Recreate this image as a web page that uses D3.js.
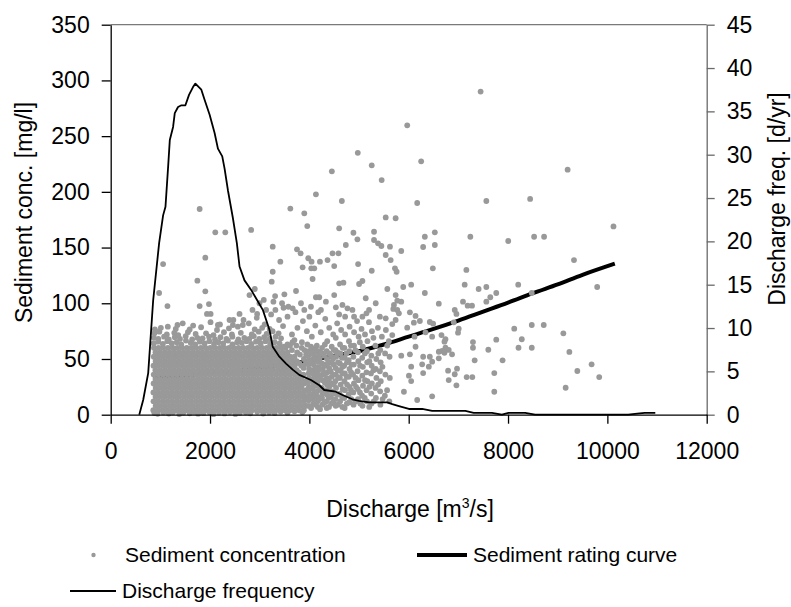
<!DOCTYPE html>
<html>
<head>
<meta charset="utf-8">
<script src="https://cdn.jsdelivr.net/npm/d3@7"></script>
<style>
  body { margin: 0; background: #fff; }
  text { font-family: "Liberation Sans", Arial, sans-serif; fill: #000; }
</style>
</head>
<body>
<svg></svg>
<script>
const svgWidth = 791;
const svgHeight = 607;

// tick values
const xTicks = [0, 2000, 4000, 6000, 8000, 10000, 12000];
const concTicks = [0, 50, 100, 150, 200, 250, 300, 350];
const freqTicks = [0, 5, 10, 15, 20, 25, 30, 35, 40, 45];

// sediment concentration, dense core: [conc mg/l, discharges m3/s]
const sedCoreRows = [
  [4,  [858, 951, 1046, 1142, 1236, 1331, 1427, 1519, 1614, 1709, 1805, 1898, 1994, 2089, 2183, 2278, 2373, 2468, 2562, 2657, 2752, 2846, 2942, 3037, 3131, 3226, 3321, 3416, 3510, 3605, 3700, 3795, 3890]],
  [8,  [905, 998, 1093, 1188, 1283, 1378, 1472, 1566, 1661, 1756, 1851, 1946, 2040, 2135, 2230, 2325, 2419, 2514, 2609, 2704, 2799, 2893, 2988, 3083, 3178, 3272, 3367, 3462, 3557, 3652, 3747, 3842, 3935]],
  [12, [862, 955, 1050, 1145, 1240, 1334, 1429, 1524, 1619, 1713, 1808, 1903, 1998, 2092, 2187, 2282, 2377, 2471, 2566, 2661, 2756, 2850, 2945, 3040, 3135, 3229, 3324, 3419, 3514, 3608, 3703, 3798, 3893]],
  [16, [903, 1001, 1096, 1190, 1285, 1380, 1475, 1569, 1664, 1759, 1854, 1948, 2043, 2138, 2233, 2327, 2422, 2517, 2612, 2706, 2801, 2896, 2991, 3085, 3180, 3275, 3370, 3464, 3559, 3654, 3749, 3843, 3930]],
  [20, [860, 954, 1049, 1143, 1238, 1333, 1428, 1522, 1617, 1712, 1807, 1901, 1996, 2091, 2186, 2280, 2375, 2470, 2565, 2659, 2754, 2849, 2944, 3038, 3133, 3228, 3323, 3417, 3512, 3607, 3702, 3796, 3891]],
  [24, [906, 1000, 1095, 1190, 1285, 1379, 1474, 1569, 1664, 1758, 1853, 1948, 2043, 2137, 2232, 2327, 2422, 2516, 2611, 2706, 2801, 2895, 2990, 3085, 3180, 3274, 3369, 3464, 3559, 3653, 3748, 3843]],
  [28, [864, 957, 1052, 1147, 1241, 1336, 1431, 1526, 1620, 1715, 1810, 1905, 1999, 2094, 2189, 2284, 2378, 2473, 2568, 2663, 2757, 2852, 2947, 3042, 3136, 3231, 3326, 3421, 3515, 3610, 3705, 3800, 3895]],
  [32, [902, 998, 1093, 1187, 1282, 1377, 1472, 1566, 1661, 1756, 1851, 1945, 2040, 2135, 2230, 2324, 2419, 2514, 2609, 2703, 2798, 2893, 2988, 3082, 3177, 3272, 3367, 3461, 3556, 3651, 3746, 3840]],
  [36, [866, 958, 1053, 1148, 1243, 1337, 1432, 1527, 1622, 1716, 1811, 1906, 2001, 2095, 2190, 2285, 2380, 2474, 2569, 2664, 2759, 2853, 2948, 3043, 3138, 3232, 3327, 3422, 3517, 3611, 3706, 3801]],
  [40, [900, 997, 1091, 1186, 1281, 1376, 1470, 1565, 1660, 1755, 1849, 1944, 2039, 2134, 2228, 2323, 2418, 2513, 2607, 2702, 2797, 2892, 2986, 3081, 3176, 3271, 3365, 3460, 3555, 3650, 3744]],
  [44, [862, 955, 1050, 1145, 1240, 1334, 1429, 1524, 1619, 1713, 1808, 1903, 1998, 2092, 2187, 2282, 2377, 2471, 2566, 2661, 2756, 2850, 2945, 3040, 3135, 3229, 3324, 3419, 3514, 3608, 3703]],
  [48, [905, 999, 1094, 1189, 1284, 1378, 1473, 1568, 1663, 1757, 1852, 1947, 2042, 2136, 2231, 2326, 2421, 2515, 2610, 2705, 2800, 2894, 2989, 3084, 3179, 3273, 3368, 3463, 3558, 3652]],
  [52, [868, 960, 1055, 1150, 1245, 1339, 1434, 1529, 1624, 1718, 1813, 1908, 2003, 2097, 2192, 2287, 2382, 2476, 2571, 2666, 2761, 2855, 2950, 3045, 3140, 3234, 3329, 3424, 3519, 3613]],
  [56, [902, 996, 1091, 1186, 1281, 1375, 1470, 1565, 1660, 1754, 1849, 1944, 2039, 2133, 2228, 2323, 2418, 2512, 2607, 2702, 2797, 2891, 2986, 3081, 3176, 3270, 3365, 3460, 3560]],
  [60, [870, 962, 1057, 1152, 1247, 1341, 1436, 1531, 1626, 1720, 1815, 1910, 2005, 2099, 2194, 2289, 2384, 2478, 2573, 2668, 2763, 2857, 2952, 3047, 3142, 3236, 3331, 3426, 3520]]
];

// sediment concentration, edges of the core and the rest of the cloud: [Q, C]
const sedEdgePoints = [
  [880, 1.5], [945, 0.8], [1060, 2], [1170, 1], [1255, 2.2], [1380, 0.6], [1460, 1.8], [1590, 1.2], [1680, 2.5], [1760, 0.9],
  [1870, 1.6], [1990, 2.3], [2070, 0.5], [2180, 1.9], [2290, 1.1], [2400, 2.4], [2510, 0.7], [2600, 1.7], [2720, 2.1], [2810, 1.3],
  [2950, 2.6], [3070, 1], [3190, 2.2], [3300, 1.5], [3420, 2.8], [3560, 1.8], [3700, 3], [3860, 2.4],
  [865, 64], [955, 65.5], [1050, 63.5], [1140, 66], [1230, 64], [1330, 65], [1420, 63], [1515, 66.5], [1610, 64.5], [1700, 63],
  [1795, 65.5], [1890, 64], [1985, 66], [2080, 63.5], [2170, 65], [2265, 64], [2360, 66.5], [2450, 63], [2545, 65], [2640, 64.5],
  [2735, 66], [2830, 63.5], [2925, 65.5], [3020, 64], [3115, 66], [3210, 63.5], [3300, 65], [3400, 64],
  [870, 69], [960, 68], [1075, 70], [1170, 67.5], [1290, 69.5], [1395, 68], [1510, 70.5], [1640, 67.5], [1745, 69], [1850, 68.5],
  [1980, 70], [2100, 67.5], [2210, 69.5], [2330, 68], [2450, 70], [2570, 67.5], [2690, 69], [2790, 68], [2880, 70.5], [2990, 68],
  [3090, 69.5], [3200, 68], [3320, 70], [3430, 68.5],
  [880, 73], [980, 74.5], [1130, 72], [1280, 73.5], [1360, 71.5], [1555, 74], [1710, 72.5], [1920, 73], [2070, 71.5], [2280, 74],
  [2440, 72], [2620, 73.5], [2840, 72], [2980, 74.5], [3140, 72.5], [3260, 75], [3380, 73],
  [890, 76.5], [1010, 78], [1310, 77], [1590, 76.5], [1820, 78.5], [2140, 76], [2380, 77.5], [2560, 79], [2900, 76.5], [3050, 78],
  [3200, 77], [1450, 82], [1660, 80], [2010, 83], [2470, 85], [2660, 80.5], [2780, 82], [2940, 87], [3100, 81], [3230, 90],
  [3390, 85], [3470, 79.5], [2200, 81], [1150, 79],
  [3790, 38], [3885, 42], [3800, 46], [3890, 50], [3810, 54], [3900, 58], [3740, 62], [3850, 65], [3700, 67], [3960, 63],
  [3745, 48], [3840, 44], [3755, 56], [3845, 60], [3700, 52], [3650, 58], [3610, 62], [3930, 46], [3935, 54], [3700, 40],
  [3880, 36], [3930, 30], [3935, 22], [3940, 14], [3660, 65], [3560, 63], [3490, 61],
  [3990, 8], [3985, 13], [3995, 17], [3980, 21], [3990, 25], [3975, 29], [3992, 33], [3985, 37], [3995, 41], [3982, 45], [3990, 49], [3978, 53], [3988, 57],
  [4080, 10], [4075, 14], [4085, 19], [4070, 23], [4082, 28], [4078, 32], [4088, 36], [4072, 40], [4085, 45], [4075, 50], [4090, 54], [4070, 59],
  [4170, 7], [4165, 12], [4178, 16], [4160, 21], [4172, 26], [4168, 30], [4180, 35], [4162, 39], [4175, 43], [4168, 48], [4178, 52], [4165, 57], [4150, 62],
  [4260, 9], [4255, 15], [4268, 19], [4250, 24], [4265, 31], [4258, 36], [4270, 41], [4252, 46], [4262, 55], [4255, 60],
  [4350, 6], [4345, 12], [4360, 18], [4340, 22], [4355, 27], [4348, 33], [4362, 38], [4342, 44], [4356, 50], [4349, 57], [4360, 66],
  [4440, 10], [4432, 16], [4450, 21], [4436, 28], [4448, 34], [4430, 39], [4445, 47], [4438, 53], [4450, 61],
  [4530, 8], [4525, 14], [4538, 24], [4522, 30], [4535, 36], [4528, 42], [4540, 52], [4524, 58], [4532, 69],
  [4620, 12], [4612, 19], [4630, 27], [4616, 33], [4628, 40], [4615, 46], [4625, 55], [4618, 63],
  [4710, 6], [4702, 15], [4718, 22], [4706, 30], [4715, 37], [4700, 44], [4712, 51], [4705, 60], [4720, 72],
  [4800, 11], [4790, 18], [4810, 25], [4795, 34], [4808, 41], [4792, 49], [4805, 57], [4798, 66],
  [4890, 9], [4885, 20], [4898, 28], [4880, 36], [4895, 45], [4886, 52], [4900, 62],
  [4980, 14], [4975, 23], [4990, 31], [4970, 39], [4985, 48], [4978, 56], [4992, 70],
  [5070, 8], [5062, 17], [5080, 26], [5066, 35], [5078, 43], [5064, 51], [5075, 61],
  [5160, 12], [5152, 22], [5168, 30], [5150, 38], [5165, 47], [5158, 57], [5170, 66],
  [5250, 10], [5245, 19], [5258, 28], [5240, 37], [5255, 44], [5248, 53], [5260, 75],
  [5340, 15], [5332, 24], [5350, 33], [5336, 41], [5348, 50], [5330, 62],
  [5430, 9], [5425, 21], [5438, 30], [5420, 39], [5435, 47], [5428, 58],
  [5520, 17], [5530, 36], [5525, 55],
  [5610, 12], [5620, 33], [5615, 52],
  [3650, 72], [3760, 78], [3870, 84], [3950, 75], [4050, 70], [4120, 80], [4230, 74], [4320, 86], [4400, 78], [4480, 72],
  [4560, 82], [4640, 76], [4720, 88], [4810, 79], [4900, 74], [4960, 84], [5050, 77], [5120, 72], [5200, 83], [5290, 69],
  [5380, 78], [5460, 70], [5540, 76], [5600, 66], [4000, 88], [4180, 92], [4600, 90], [5150, 91], [5420, 88], [3720, 92],
  [3560, 88], [3480, 96]
];

// sediment concentration, filling between the columns above: [Q, C]
const sedMidPoints = [
  [4035, 6], [4028, 15], [4040, 24], [4031, 31], [4038, 39], [4026, 47], [4042, 55], [4033, 61],
  [4125, 9], [4118, 17], [4130, 26], [4121, 34], [4128, 42], [4116, 50], [4132, 58],
  [4215, 5], [4208, 14], [4220, 23], [4211, 33], [4218, 41], [4206, 50], [4222, 56],
  [4305, 11], [4298, 20], [4310, 29], [4301, 37], [4308, 45], [4296, 53], [4312, 63],
  [4395, 7], [4388, 15], [4400, 25], [4391, 31], [4398, 42], [4386, 47], [4402, 55],
  [4485, 12], [4478, 19], [4490, 27], [4481, 36], [4488, 45], [4476, 50], [4492, 58],
  [4575, 9], [4568, 18], [4580, 33], [4571, 40], [4578, 47], [4566, 56],
  [4665, 7], [4658, 16], [4670, 23], [4661, 37], [4668, 43], [4656, 51], [4672, 60],
  [4755, 10], [4760, 27], [4751, 34], [4758, 47], [4746, 55],
  [4845, 14], [4838, 22], [4841, 38], [4848, 45], [4836, 62],
  [4935, 12], [4940, 25], [4931, 33], [4926, 58],
  [5025, 10], [5018, 20], [5021, 44], [5016, 65],
  [5115, 15], [5120, 31], [5118, 55],
  [5205, 7], [5210, 25], [5208, 48],
  [5295, 12], [5291, 40],
  [5385, 27], [5388, 55],
  [5475, 14], [5471, 43],
  [5565, 22], [5568, 62]
];

// sediment concentration, scattered high values: [Q, C]
const sedOutliers = [
  [1791, 184.6], [3617, 185], [3898, 180.7], [4132, 197.8], [4453, 218.4], [4654, 191.8], [4975, 235], [5256, 223.8], [5456, 210.6], [5537, 177],
  [5970, 259.7], [6251, 227.4], [7448, 290], [6171, 190], [7563, 191.8], [8445, 193.6], [9200, 219.9],
  [10123, 169], [8525, 159.7], [8726, 159.7], [8004, 155.9], [9328, 138.8], [7241, 159.7], [6526, 163.7], [6325, 159.7], [6526, 152.3],
  [6291, 150.5], [5850, 146.9], [5723, 131.4], [6486, 131.4], [7161, 129.9], [7127, 116.7], [5890, 114.6], [6050, 116.7], [6325, 109.2],
  [6606, 99.6], [7408, 112.8], [7563, 114.6], [8205, 116.7], [8478, 109.2], [9795, 114.6], [7763, 109.2], [7643, 105.4], [7563, 101.4],
  [7093, 101.4], [7187, 97.8], [7275, 97.8], [6927, 94], [6961, 90.4], [6907, 82.9], [6993, 73.6], [7007, 77.2], [8125, 77.2], [8277, 67.7],
  [8211, 60.1], [8478, 60.1], [8478, 80.5], [8719, 80.5], [9114, 73], [9235, 56.3], [9683, 45.2], [9395, 39.2], [9836, 33.8], [9160, 24.2],
  [7763, 67.3], [7890, 48.8], [7723, 37.4], [7723, 20.6], [7603, 58.3], [7294, 65.2], [7294, 60.1], [7328, 48.8], [7167, 33.8], [7281, 33.8],
  [6961, 26.4], [6806, 31.1], [6927, 36.3], [6973, 41.3], [6793, 39.5], [6873, 54.2], [6740, 60.1], [6720, 65.5], [6606, 56.5], [6472, 47.6],
  [6425, 52], [6405, 43.1], [6271, 45.2], [6291, 37.4], [6472, 16.5], [6171, 13.2], [6050, 43.1], [6050, 30.2], [6004, 35], [5904, 20.6],
  [5850, 53], [6024, 54.2], [6138, 61], [6118, 70], [5970, 78.1], [6104, 82.6], [6138, 88.6], [6024, 91.9], [5803, 91], [5770, 102.3],
  [5850, 101.4], [5690, 94.9], [6225, 84.1], [6339, 73.9], [6425, 83.2], [6492, 81.7], [6472, 70], [6660, 71.5], [6673, 57.2], [6806, 58.1],
  [6740, 67.7], [6720, 55.6], [6291, 52], [6606, 50.6], [5669, 81.3], [5669, 71.5],
  [1055, 135.2], [975, 109.2], [1143, 97.5], [1344, 80.5], [1745, 120.3], [1791, 97.5], [1905, 140.9], [1905, 110.7], [1978, 99.3], [1938, 90.4],
  [2012, 90.4], [2106, 163.7], [2307, 163.7], [2159, 80.5], [2393, 85], [2460, 80.5], [2594, 90.4], [2674, 85], [2828, 165.8], [2794, 107.4],
  [2901, 112.8], [2855, 94], [2948, 90.4], [3129, 94], [3082, 103], [3262, 150.8], [3262, 128.3], [3242, 119.4], [3276, 101.4], [3310, 106.5],
  [3416, 137.3], [3497, 108], [3577, 96.9], [3731, 111], [3751, 148.4], [3824, 144.8], [3864, 132.3], [3958, 169.3], [3978, 140.4], [4038, 131.4],
  [4045, 137.3], [4065, 121.8], [4099, 131.4], [4132, 105.4], [4213, 137.3], [4366, 138.8], [4466, 144.8], [4500, 133.4], [4586, 144.8], [4600, 167.3],
  [4600, 117.9], [4686, 118.5], [4734, 152.3], [4887, 163.3], [4967, 157.4], [4981, 135.2], [5001, 117.3], [5068, 120], [5135, 104.5], [5256, 129.2],
  [5302, 164.2], [5302, 156.8], [5383, 153.8], [5450, 151.4], [5537, 143.3], [5570, 112.8], [5623, 150.8], [5637, 138.8], [5770, 94], [5737, 107.4],
  [5737, 176.3], [5757, 128.3],
  [2995, 100], [3316, 94], [3450, 100], [3664, 95.5], [3831, 100], [3898, 94], [4032, 96.9], [4199, 105.4], [4233, 94], [4333, 101.4],
  [4500, 107.4], [4533, 96.4], [4666, 98.5], [4767, 95.5], [4867, 94], [4900, 88], [5068, 88], [5202, 94], [5336, 100], [5537, 86.5],
  [5703, 98.5], [5737, 85]
];

// sediment rating curve
const ratingQ = [850, 1500, 2000, 2500, 3000, 3500, 4000, 4500, 5000, 5500, 6000, 6500, 7000, 7500, 8000, 8500, 9000, 9500, 10150];
const ratingC = [34, 35.5, 37, 39, 42, 45, 48.5, 53, 57, 63, 70, 77, 84.5, 92.5, 100.5, 109, 117, 125.5, 135.5];

// discharge frequency [d/yr]
const freqQ = [575, 654, 755, 855, 975, 1055, 1103, 1156, 1190, 1256, 1290, 1356, 1424, 1504, 1577, 1657, 1705, 1825, 1892, 1992,
  2092, 2159, 2246, 2293, 2360, 2460, 2540, 2594, 2694, 2828, 2929, 3062, 3196, 3262, 3396, 3530, 3664, 3797, 4032, 4199,
  4299, 4533, 4666, 4867, 5001, 5202, 5570, 5669, 5803, 6004, 6271, 6472, 7141, 7308, 7676, 7876, 8010, 8345, 8545, 10418,
  10650, 10752, 10965];
const freqDays = [0, 1.7, 4.8, 13.2, 19.8, 23, 24, 28.6, 31.7, 33.2, 34.8, 35.5, 35.7, 35.7, 36.9, 37.8, 38.2, 37.5, 36.3, 34.6,
  32.5, 30.7, 29.8, 28.4, 25.9, 22.7, 19.8, 17.1, 15.5, 14.4, 13.4, 12.1, 9.8, 7.85, 6.7, 5.9, 5.2, 4.6, 4.0, 3.4,
  2.85, 2.65, 2.27, 1.78, 1.6, 1.43, 1.43, 1.23, 1.0, 0.66, 0.66, 0.43, 0.43, 0.2, 0.2, 0, 0.2, 0.2, 0, 0,
  0.15, 0.2, 0.2];

const svg = d3.select("svg")
  .attr("width", svgWidth)
  .attr("height", svgHeight);

const x = d3.scaleLinear().domain([0, 12000]).range([110.7, 706.7]);
const yConc = d3.scaleLinear().domain([0, 350]).range([414.7, 24.7]);
const yFreq = d3.scaleLinear().domain([0, 45]).range([414.7, 24.7]);

// all concentration samples
const sedPoints = [];
sedCoreRows.forEach(function(row) {
  row[1].forEach(function(q) { sedPoints.push([q, row[0]]); });
});
sedEdgePoints.concat(sedMidPoints, sedOutliers).forEach(function(p) { sedPoints.push(p); });

// top border
svg.append("line")
  .attr("x1", x(0)).attr("x2", x(12000))
  .attr("y1", yConc(350)).attr("y2", yConc(350))
  .attr("stroke", "#7a7a7a").attr("stroke-width", 1.3);

// rating curve under the dots
const ratingLine = d3.line()
  .x(function(d, i) { return x(ratingQ[i]); })
  .y(function(d) { return yConc(d); })
  .curve(d3.curveMonotoneX);

svg.append("path")
  .attr("d", ratingLine(ratingC))
  .attr("fill", "none")
  .attr("stroke", "#000")
  .attr("stroke-width", 4);

svg.append("g")
  .selectAll("circle")
  .data(sedPoints)
  .enter()
  .append("circle")
  .attr("cx", function(d) { return x(d[0]); })
  .attr("cy", function(d) { return yConc(d[1]); })
  .attr("r", 2.9)
  .attr("fill", "#999999");

const freqLine = d3.line()
  .x(function(d, i) { return x(freqQ[i]); })
  .y(function(d) { return yFreq(d); });

svg.append("path")
  .attr("d", freqLine(freqDays))
  .attr("fill", "none")
  .attr("stroke", "#000")
  .attr("stroke-width", 1.8)
  .attr("stroke-linejoin", "round");

// axes
const fmt = d3.format("d");
const leftAxis = svg.append("g")
  .attr("transform", "translate(" + x(0) + ",0)")
  .call(d3.axisLeft(yConc).tickValues(concTicks).tickFormat(fmt).tickSize(9).tickSizeOuter(0).tickPadding(12));

const rightAxis = svg.append("g")
  .attr("transform", "translate(" + x(12000) + ",0)")
  .call(d3.axisRight(yFreq).tickValues(freqTicks).tickFormat(fmt).tickSize(8).tickSizeOuter(0).tickPadding(12));

const bottomAxis = svg.append("g")
  .attr("transform", "translate(0," + yConc(0) + ")")
  .call(d3.axisBottom(x).tickValues(xTicks).tickFormat(fmt).tickSize(9).tickSizeOuter(0).tickPadding(19));

[leftAxis, rightAxis, bottomAxis].forEach(function(g) {
  g.selectAll("text").style("font-size", "23px").attr("font-family", null);
  g.attr("font-family", null).attr("font-size", null);
});
leftAxis.selectAll("path, line").attr("stroke", "#000").attr("stroke-width", 1.3);
bottomAxis.selectAll("path, line").attr("stroke", "#000").attr("stroke-width", 1.3);
rightAxis.selectAll("path, line").attr("stroke", "#6a6a6a").attr("stroke-width", 1.3);

// axis titles
svg.append("text")
  .attr("transform", "translate(32,212.5) rotate(-90)")
  .attr("text-anchor", "middle")
  .style("font-size", "23px")
  .text("Sediment conc. [mg/l]");

svg.append("text")
  .attr("transform", "translate(785,199) rotate(-90)")
  .attr("text-anchor", "middle")
  .style("font-size", "23px")
  .text("Discharge freq. [d/yr]");

const xTitle = svg.append("text")
  .attr("x", 410)
  .attr("y", 517)
  .attr("text-anchor", "middle")
  .style("font-size", "23px");
xTitle.append("tspan").text("Discharge [m");
xTitle.append("tspan").attr("dy", -9).style("font-size", "14px").text("3");
xTitle.append("tspan").attr("dy", 9).text("/s]");

// legend
const legend = svg.append("g").style("font-size", "21px");
legend.append("circle").attr("cx", 93.5).attr("cy", 555).attr("r", 2.2).attr("fill", "#999999");
legend.append("text").attr("x", 125).attr("y", 562).text("Sediment concentration");
legend.append("line").attr("x1", 417).attr("x2", 467).attr("y1", 555).attr("y2", 555)
  .attr("stroke", "#000").attr("stroke-width", 4);
legend.append("text").attr("x", 473).attr("y", 562).text("Sediment rating curve");
legend.append("line").attr("x1", 70).attr("x2", 116).attr("y1", 591).attr("y2", 591)
  .attr("stroke", "#000").attr("stroke-width", 1.8);
legend.append("text").attr("x", 122).attr("y", 598).text("Discharge frequency");
</script>
</body>
</html>
